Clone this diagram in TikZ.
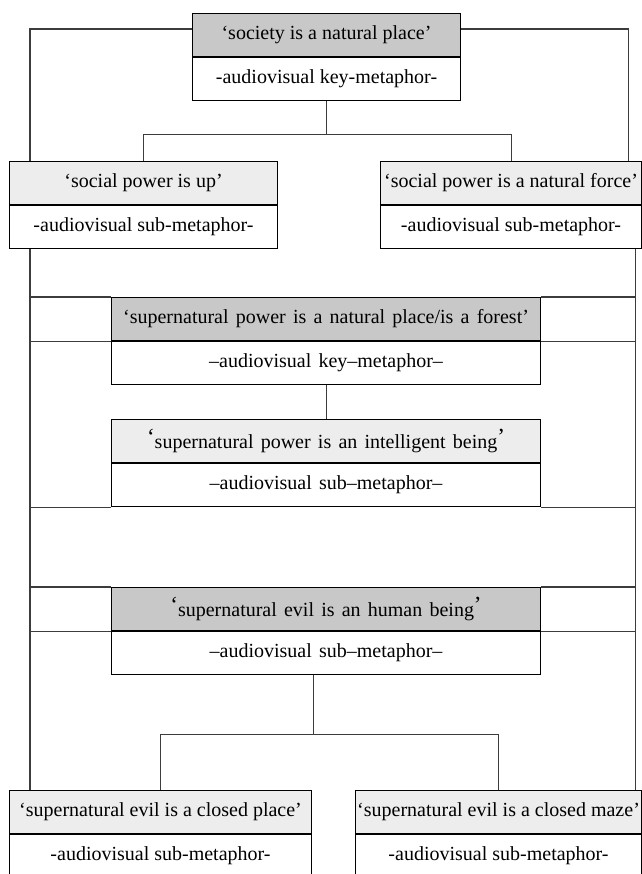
\documentclass[tikz,border=0pt]{standalone}
\usepackage{fontspec}
\setmainfont{Liberation Serif}
\usetikzlibrary{positioning}

\definecolor{headdark}{HTML}{C8C8C8}
\definecolor{headlight}{HTML}{EDEDED}
\definecolor{linkgray}{HTML}{3C3C3C}
\def\px{0.75pt}
\newcommand\bigq[1]{\raisebox{.45ex}{\LARGE#1}}
\protected\def\widesp{\spaceskip=.36em\relax}

\tikzset{
  box/.style={draw=black, line width=0.8pt, inner sep=0pt, minimum height=43*\px,
    font=\fontsize{15}{18}\selectfont},
  head/.style={box, anchor=north west},
  sub/.style={box, fill=white},
  dark/.style={fill=headdark},
  light/.style={fill=headlight},
  wide/.style={execute at begin node=\widesp},
  link/.style={draw=linkgray, line width=0.8pt},
  divider/.style={line width=1.5pt},
}

\begin{document}
\begin{tikzpicture}[x=\px, y=-\px]
  \useasboundingbox (0,0) rectangle (642,874);

  %%%%% boxes %%%%%
  \node[head, dark, minimum width=268*\px] (t1) at (192,13) {‘society is a natural place’};
  \node[sub, minimum width=268*\px, below=0pt of t1] (s1) {-audiovisual key-metaphor-};

  \node[head, light, minimum width=268*\px] (t2) at (9,161) {‘social power is up’};
  \node[sub, minimum width=268*\px, below=0pt of t2] (s2) {-audiovisual sub-metaphor-};

  \node[head, light, minimum width=261*\px] (t3) at (380,161) {‘social power is a natural force’};
  \node[sub, minimum width=261*\px, below=0pt of t3] (s3) {-audiovisual sub-metaphor-};

  \node[head, dark, wide, minimum width=429*\px] (t4) at (111,297) {‘supernatural power is a natural place/is a forest’};
  \node[sub, wide, minimum width=429*\px, below=0pt of t4] (s4) {–audiovisual key–metaphor–};

  \node[head, light, wide, minimum width=429*\px] (t5) at (111,419) {\bigq{‘}supernatural power is an intelligent being\bigq{’}};
  \node[sub, wide, minimum width=429*\px, below=0pt of t5] (s5) {–audiovisual sub–metaphor–};

  \node[head, dark, wide, minimum width=429*\px] (t6) at (111,587) {\bigq{‘}supernatural evil is an human being\bigq{’}};
  \node[sub, wide, minimum width=429*\px, below=0pt of t6] (s6) {–audiovisual sub–metaphor–};

  \node[head, light, minimum width=302*\px] (t7) at (9,790) {‘supernatural evil is a closed place’};
  \node[sub, minimum width=302*\px, below=0pt of t7] (s7) {-audiovisual sub-metaphor-};

  \node[head, light, minimum width=286*\px] (t8) at (355,790) {‘supernatural evil is a closed maze’};
  \node[sub, minimum width=286*\px, below=0pt of t8] (s8) {-audiovisual sub-metaphor-};

  \foreach \n in {1,...,8}
    \draw[divider] (t\n.south west) -- (t\n.south east);

  %%%%% connectors %%%%%
  \draw[link] ([yshift=-16*\px]t1.north west) -| ([xshift=21*\px]t2.north west);
  \draw[link] ([yshift=-16*\px]t1.north east) -| ([xshift=-14*\px]t3.north east);
  \draw[link] (s1.south) -- ++(0,33) coordinate (j1);
  \draw[link] (t2.north) |- (j1) -| (t3.north);

  % side rails
  \coordinate (L) at ([xshift=21*\px]s2.south west);
  \coordinate (R) at ([xshift=-7*\px]s3.south east);
  \draw[link] (L) -- ([xshift=21*\px]t7.north west);
  \draw[link] (R) -- ([xshift=-7*\px]t8.north east);
  \foreach \a/\b in {t4.north west/t4.north east, t4.south west/t4.south east,
      s5.south west/s5.south east, t6.north west/t6.north east, t6.south west/t6.south east} {
    \draw[link] (L |- \a) -- (\a);
    \draw[link] (\b) -- (R |- \b);
  }

  \draw[link] (s4.south) -- (t5.north);
  \draw[link] ([xshift=-13*\px]s6.south) -- ++(0,59) coordinate (j2);
  \draw[link] (t7.north) |- (j2) -| (t8.north);

\end{tikzpicture}
\end{document}
